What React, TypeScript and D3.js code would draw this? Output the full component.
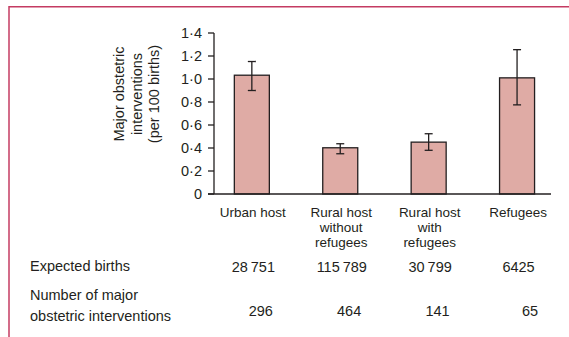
import React from "react";
import * as d3 from "d3";

const categories = ["Urban host", "Rural host without refugees", "Rural host with refugees", "Refugees"];
const categoryLines = [["Urban host"], ["Rural host", "without", "refugees"], ["Rural host", "with", "refugees"], ["Refugees"]];
const rates = [1.033, 0.402, 0.451, 1.01];
const lower = [0.9, 0.35, 0.38, 0.775];
const upper = [1.152, 0.437, 0.524, 1.255];
const expectedBirths = [28751, 115789, 30799, 6425];
const interventions = [296, 464, 141, 65];
const yTicks = [0, 0.2, 0.4, 0.6, 0.8, 1.0, 1.2, 1.4];

const W = 569;
const H = 337;
const FONT = "'Liberation Sans', Arial, sans-serif";
const TEXT = "#231f20";
const FRAME = "#c43b62";

function fmtNum(n: number): string {
  const s = String(n);
  if (s.length < 5) return s;
  return s.replace(/\B(?=(\d{3})+(?!\d))/g, "\u2009");
}
function fmtTick(v: number): string {
  if (v === 0) return "0";
  return v.toFixed(1).replace(".", "\u00b7");
}

export default function App() {
  const y = d3.scaleLinear().domain([0, 1.4]).range([194, 33]);
  const x = d3
    .scaleBand<string>()
    .domain(categories)
    .range([214, 554.9])
    .paddingInner(0.604)
    .paddingOuter(0.23);
  const bw = x.bandwidth();
  const axisX = 214;
  const axisEnd = 551;
  const cap = 4;

  return (
    <svg
      width={W}
      height={H}
      style={{ position: "absolute", left: 0, top: 0, background: "#fff" }}
      fontFamily={FONT}
    >
      <rect x={0} y={0} width={W} height={H} fill="#fff" />
      {/* frame */}
      <line x1={9} x2={W} y1={6.75} y2={6.75} stroke={FRAME} strokeWidth={1.5} />
      <line x1={9} x2={9} y1={6} y2={H} stroke={FRAME} strokeWidth={1.5} />

      {/* y axis title */}
      <g transform={`translate(0, 94)`}>
        {["Major obstetric", "interventions", "(per 100 births)"].map((t, i) => (
          <text
            key={t}
            transform={`translate(${124 + i * 17.5}, 0) rotate(-90)`}
            textAnchor="middle"
            fontSize={14.5}
            fill={TEXT}
          >
            {t}
          </text>
        ))}
      </g>

      {/* bars */}
      {categories.map((c, i) => (
        <rect
          key={c}
          x={x(c)!}
          y={y(rates[i])}
          width={bw}
          height={y(0) - y(rates[i])}
          fill="#dfaba5"
          stroke="#231f20"
          strokeWidth={1.3}
        />
      ))}

      {/* error bars */}
      {categories.map((c, i) => {
        const cx = x(c)! + bw / 2;
        return (
          <g key={c} stroke="#231f20" strokeWidth={1.3}>
            <line x1={cx} x2={cx} y1={y(lower[i])} y2={y(upper[i])} />
            <line x1={cx - cap} x2={cx + cap} y1={y(upper[i])} y2={y(upper[i])} />
            <line x1={cx - cap} x2={cx + cap} y1={y(lower[i])} y2={y(lower[i])} />
          </g>
        );
      })}

      {/* y axis */}
      <line x1={axisX} x2={axisX} y1={y(1.4)} y2={y(0)} stroke="#231f20" strokeWidth={1.3} />
      {yTicks.map((t) => (
        <g key={t}>
          <line x1={axisX - 6} x2={axisX} y1={y(t)} y2={y(t)} stroke="#231f20" strokeWidth={1.3} />
          <text x={axisX - 12} y={y(t)} dy="0.35em" textAnchor="end" fontSize={14.5} fill={TEXT}>
            {fmtTick(t)}
          </text>
        </g>
      ))}

      {/* x axis */}
      <line x1={axisX - 6} x2={axisEnd} y1={y(0)} y2={y(0)} stroke="#231f20" strokeWidth={1.3} />

      {/* x labels */}
      {categories.map((c, i) => (
        <text key={c} textAnchor="middle" fontSize={13.5} fill={TEXT}>
          {categoryLines[i].map((l, j) => (
            <tspan key={j} x={x(c)! + bw / 2 + 1} y={216.5 + j * 15.2}>
              {l}
            </tspan>
          ))}
        </text>
      ))}

      {/* table */}
      <text x={30} y={271} fontSize={14.5} fill={TEXT}>
        Expected births
      </text>
      <text x={30} y={300} fontSize={14.5} fill={TEXT}>
        Number of major
      </text>
      <text x={30} y={321} fontSize={14.5} fill={TEXT}>
        obstetric interventions
      </text>
      {categories.map((c, i) => (
        <text key={c} x={x(c)! + bw / 2 + 1.5} y={272} textAnchor="middle" fontSize={14.5} fill={TEXT}>
          {fmtNum(expectedBirths[i])}
        </text>
      ))}
      {categories.map((c, i) => (
        <text key={c} x={x(c)! + bw / 2 + 21} y={316} textAnchor="end" fontSize={14.5} fill={TEXT}>
          {fmtNum(interventions[i])}
        </text>
      ))}
    </svg>
  );
}
